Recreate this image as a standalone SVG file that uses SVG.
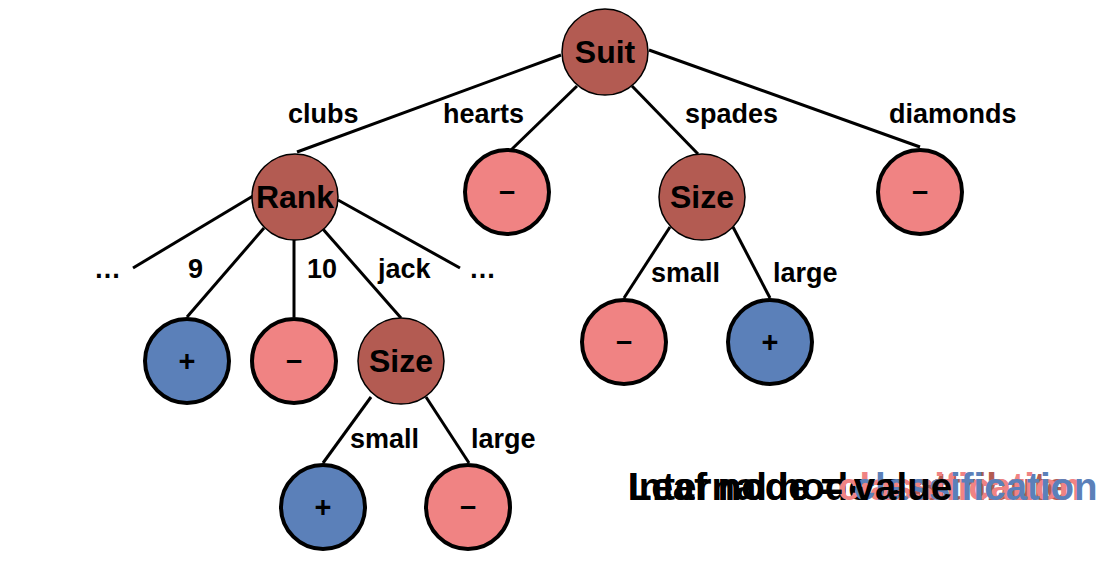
<svg xmlns="http://www.w3.org/2000/svg" width="1112" height="562" viewBox="0 0 1112 562">
<style>
.e{stroke:#000;stroke-width:3;fill:none;stroke-linecap:butt}
.in{fill:#B35B52;stroke:#000;stroke-width:1.5}
.neg{fill:#F08383;stroke:#000;stroke-width:4}
.pos{fill:#5B80B9;stroke:#000;stroke-width:4}
.nt{font-family:"Liberation Sans",Arial,sans-serif;font-weight:bold;font-size:32px;text-anchor:middle;fill:#000}
.lt{font-family:"Liberation Sans",Arial,sans-serif;font-weight:bold;font-size:29px;text-anchor:middle;fill:#000}
.el{font-family:"Liberation Sans",Arial,sans-serif;font-weight:bold;font-size:27px;fill:#000}
.cap{font-family:"Liberation Sans",Arial,sans-serif;font-weight:bold;font-size:38.5px}
.k{fill:#000}
</style>
<g id="connectors">
<line class="e" x1="561" y1="55" x2="297" y2="152"/>
<line class="e" x1="577" y1="86" x2="511" y2="150"/>
<line class="e" x1="632" y1="86" x2="698" y2="154"/>
<line class="e" x1="649" y1="50" x2="920" y2="147"/>
<line class="e" x1="253" y1="196" x2="133" y2="268"/>
<line class="e" x1="264" y1="228" x2="187" y2="317"/>
<line class="e" x1="294" y1="240" x2="294" y2="317"/>
<line class="e" x1="322" y1="228" x2="401" y2="318"/>
<line class="e" x1="338" y1="200" x2="460" y2="268"/>
<line class="e" x1="371" y1="397" x2="323" y2="463"/>
<line class="e" x1="426" y1="397" x2="469" y2="463"/>
<line class="e" x1="670" y1="227" x2="624" y2="298"/>
<line class="e" x1="733" y1="227" x2="770" y2="298"/>
</g>
<g id="edge-labels">
<text class="el" x="288" y="123">clubs</text>
<text class="el" x="443" y="123">hearts</text>
<text class="el" x="685" y="123">spades</text>
<text class="el" x="889" y="123">diamonds</text>
<text class="el" x="94" y="278">…</text>
<text class="el" x="188" y="278">9</text>
<text class="el" x="307" y="278">10</text>
<text class="el" x="378" y="278">jack</text>
<text class="el" x="469" y="278">…</text>
<text class="el" x="350" y="448">small</text>
<text class="el" x="471" y="448">large</text>
<text class="el" x="651" y="282">small</text>
<text class="el" x="773" y="282">large</text>
</g>
<g id="suit"><circle class="in" cx="605" cy="52" r="43"/><text class="nt" x="605" y="63">Suit</text></g>
<g id="rank"><circle class="in" cx="295" cy="197" r="43"/><text class="nt" x="295" y="208">Rank</text></g>
<g id="hearts-leaf"><circle class="neg" cx="507" cy="192" r="42"/><text class="lt" x="507" y="201">–</text></g>
<g id="size-right"><circle class="in" cx="702" cy="197" r="43"/><text class="nt" x="702" y="208">Size</text></g>
<g id="diamonds-leaf"><circle class="neg" cx="920" cy="192" r="42"/><text class="lt" x="920" y="201">–</text></g>
<g id="nine-leaf"><circle class="pos" cx="187" cy="361" r="42"/><text class="lt" x="187" y="371">+</text></g>
<g id="ten-leaf"><circle class="neg" cx="294" cy="361" r="42"/><text class="lt" x="294" y="370">–</text></g>
<g id="size-left"><circle class="in" cx="401" cy="361" r="43"/><text class="nt" x="401" y="372">Size</text></g>
<g id="small-leaf-left"><circle class="pos" cx="323" cy="507" r="42"/><text class="lt" x="323" y="517">+</text></g>
<g id="large-leaf-left"><circle class="neg" cx="468" cy="507" r="42"/><text class="lt" x="468" y="516">–</text></g>
<g id="small-leaf-right"><circle class="neg" cx="624" cy="342" r="42"/><text class="lt" x="624" y="351">–</text></g>
<g id="large-leaf-right"><circle class="pos" cx="770" cy="342" r="42"/><text class="lt" x="770" y="352">+</text></g>
<g id="caption">
<text class="cap" x="628" y="500"><tspan class="k">Internal node = </tspan><tspan fill="#B35B52">attribute</tspan></text>
<text class="cap" x="838" y="500" style="fill:#F08383">classification</text>
<text class="cap" x="628" y="500"><tspan class="k">Leaf node = </tspan><tspan fill="#5B80B9">classification</tspan></text>
<text class="cap k" x="628" y="500">Leaf node = value</text>
</g>
</svg>
